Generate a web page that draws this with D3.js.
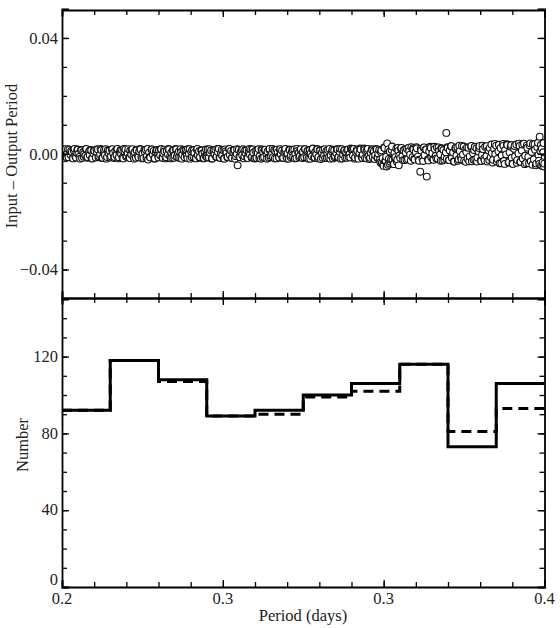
<!DOCTYPE html>
<html><head><meta charset="utf-8">
<script src="https://cdn.jsdelivr.net/npm/d3@7"></script>
<style>body{margin:0;background:#fff;} svg{display:block;} text{font-family:"Liberation Serif","Times New Roman",serif;fill:#222;}</style>
</head><body><div id="chart"></div>
<script>
// ---- DATA ----
// periods (units of 1e-4 days) and input-output differences (units of 1e-4)
const periods = [
2000,2004,2009,2013,2016,2022,2027,2031,2035,2041,2046,2049,2055,2060,2064,2068,2073,2079,2083,2088,2092,2097,2101,2106,2112,2115,2121,2126,2130,2134,2140,2145,2149,2154,2158,2163,2169,2173,2178,2182,2187,2193,2197,
2203,2207,2212,2216,2221,2226,2230,2236,2240,2245,2249,2254,2259,2263,2268,2272,2278,2283,2287,2292,2296,2301,2306,2310,2315,2320,2324,2329,2334,2338,2343,2348,2352,2357,2361,2366,2371,2376,2380,2385,2389,2394,2398,
2402,2407,2411,2416,2420,2425,2430,2434,2439,2444,2448,2453,2457,2462,2467,2471,2476,2480,2485,2490,2494,2499,2503,2508,2513,2517,2522,2526,2531,2536,2540,2545,2549,2554,2559,2563,2568,2572,2577,2582,2586,2591,2595,
2600,2604,2609,2613,2618,2623,2627,2632,2636,2641,2646,2650,2655,2659,2664,2669,2673,2678,2682,2687,2692,2696,2701,2705,2710,2715,2719,2724,2728,2733,2738,2742,2747,2751,2756,2761,2765,2770,2774,2779,2784,2788,2793,2797,
2802,2806,2811,2815,2820,2825,2829,2834,2838,2843,2848,2852,2857,2861,2866,2871,2875,2880,2884,2889,2894,2898,2903,2907,2912,2917,2921,2926,2930,2935,2940,2944,2949,2953,2958,2963,2967,2972,2976,2981,2986,2990,2995,2999,
3004,3008,3013,3017,3022,3027,3031,3036,3040,3045,3050,3054,3059,3063,3068,3073,3077,3082,3086,3091,3096,3100,3105,3109,3114,3119,3123,3128,3132,3137,3142,3146,3151,3155,3160,3165,3169,3174,3178,3183,3188,3192,3197,
3201,3206,3210,3215,3219,3224,3229,3233,3238,3242,3247,3252,3256,3261,3265,3270,3275,3279,3284,3288,3293,3298,3302,3307,3311,3315,3318,3322,3326,3329,3333,3337,3340,3344,3348,3351,3355,3359,3362,3366,3370,3374,3378,3382,3386,3390,3394,3398,
3402,3407,3411,3416,3420,3425,3430,3434,3439,3443,3448,3453,3457,3462,3466,3471,3476,3480,3485,3489,3494,3499,3503,3508,3512,3517,3522,3526,3531,3535,3540,3545,3549,3554,3558,3563,3568,3572,3577,3581,3586,3591,3593,3595,3599,
3603,3607,3612,3616,3621,3626,3630,3635,3639,3644,3649,3653,3658,3662,3667,3672,3676,3681,3685,3690,3695,3699,3704,3708,3713,3718,3722,3727,3731,3736,3741,3745,3750,3754,3759,3764,3768,3773,3777,3782,3787,3791,3796,
3800,3805,3809,3814,3818,3823,3828,3832,3837,3841,3846,3851,3855,3860,3864,3869,3874,3878,3883,3887,3892,3897,3901,3906,3910,3915,3920,3924,3929,3933,3938,3943,3947,3952,3956,3961,3966,3970,3975,3977,3980,3983,3986,3989,3992,3995,3998];
const residuals = [
3,-14,9,16,-6,1,-12,14,-3,7,-16,11,-8,4,15,-1,-10,13,-15,6,0,-7,17,-11,8,-4,12,-16,2,10,-13,5,15,-9,-2,13,-14,7,-5,16,-11,3,11,
-9,14,2,-15,10,-4,17,-12,6,-1,13,-16,8,15,-7,3,-13,11,-3,16,-10,5,-14,12,-6,9,17,-11,1,-15,7,14,-8,-20,4,-13,15,-2,10,-16,6,13,-5,
12,-5,16,-13,1,8,-16,10,-2,15,-9,4,-14,13,-6,17,-11,2,9,-15,6,-3,14,-12,11,-7,16,-1,-17,7,13,-10,3,-14,15,-5,9,-12,12,0,-16,6,-8,
-7,15,-13,4,11,-16,9,-2,14,-10,6,17,-14,1,-6,12,-17,8,3,-11,16,-4,10,-15,5,13,-8,-1,-40,14,-12,7,-5,16,-9,2,12,-15,9,-3,15,-11,4,-16,
10,-15,3,16,-8,-17,12,5,-11,14,-3,8,-14,17,-6,1,-12,13,9,-16,4,-9,15,-2,11,-14,6,17,-10,2,-17,13,-5,8,-12,15,-1,-15,10,4,-8,16,-13,7,
-12,16,-4,9,-17,13,2,-9,18,-14,6,-2,15,-11,11,-18,4,14,-7,-15,10,1,-13,17,-5,8,-16,12,-8,3,15,-12,7,-17,16,-3,10,-14,5,13,-10,-1,18,
14,-6,17,-13,5,10,-17,2,15,-10,-3,18,-15,7,12,-8,-18,4,16,-12,9,-5,17,-14,1,13,-20,6,-32,-15,-42,20,-25,-10,36,-38,-18,8,-28,14,-22,-35,3,-12,18,-20,10,-6,
-15,20,-8,12,-22,4,17,-18,9,-3,23,-12,14,-20,6,19,-9,-24,-62,11,-16,21,-5,15,-79,-19,8,24,-13,2,-21,16,-7,22,-17,10,-2,19,-23,13,-10,5,72,-18,20,
-22,11,26,-14,4,-27,18,-6,23,-19,9,-11,27,-3,-24,15,6,-17,21,-9,25,-26,2,13,-20,19,-13,8,27,-23,-4,16,-16,24,-8,-27,12,20,-12,3,-21,17,-1,
28,-18,9,-33,20,-6,34,-25,13,-2,30,-30,5,24,-14,-35,17,-9,32,-22,1,27,-28,11,-16,35,-7,-32,21,-11,29,-26,6,33,-19,14,-34,23,-4,-24,59,10,-40,18,-30,5,-44];

// second group of stars (same units)
const periodsB = [
2002,2011,2019,2025,2038,2044,2052,2058,2066,2075,2081,2090,2099,2104,2117,2124,2132,2143,2151,2160,
2166,2175,2184,2190,2200,2209,2218,2228,2233,2243,2251,2257,2266,2275,2281,2290,2299,2308,2317,2326,
2332,2341,2350,2355,2364,2373,2383,2392,2400,2409,2418,2423,2432,2441,2451,2459,2465,2474,2483,2492,
2497,2506,2515,2520,2529,2538,2547,2556,2561,2570,2579,2588,2597,2602,2611,2621,2630,2639,2644,2653,
2662,2671,2676,2685,2694,2703,2712,2717,2726,2735,2745,2754,2759,2768,2777,2786,2791,2800,2809,2818,
2827,2832,2841,2850,2859,2864,2873,2882,2891,2900,2905,2914,2924,2933,2942,2947,2956,2965,2974,2983,
2988,2997,3006,3015,3020,3029,3038,3048,3057,3061,3070,3080,3089,3098,3103,3112,3121,3130,3139,3144,
3153,3162,3171,3181,3186,3195,3204,3213,3222,3227,3236,3245,3254,3263,3268,3277,3286,3296,3305,3309,
3320,3324,3331,3335,3342,3346,3353,3357,3364,3368,3376,3380,3388,3392,3396,3405,3414,3423,3428,3437,
3446,3455,3460,3469,3478,3487,3497,3501,3510,3519,3529,3538,3543,3552,3561,3570,3575,3584,3597,3605,
3614,3624,3633,3641,3647,3656,3665,3674,3679,3688,3697,3706,3711,3720,3729,3738,3743,3752,3761,3771,
3780,3785,3794,3802,3811,3821,3830,3835,3844,3853,3862,3867,3876,3885,3894,3899,3908,3918,3927,3936,
3941,3950,3959,3964,3973,3979,3985,3991,3996,3999];
const residualsB = [
15,-16,-12,16,10,-15,17,-13,14,-17,12,-10,16,-14,13,-16,11,15,-12,17,
-15,14,-17,12,-13,16,-11,15,-16,13,-14,17,-10,16,-15,12,-17,14,-12,15,
-16,13,-14,17,-11,15,-17,12,-13,16,-15,14,-12,17,-16,11,-14,15,-13,16,
-17,12,14,-15,16,-12,13,-16,17,-14,11,-15,15,-13,16,-17,12,-11,17,-14,
14,-16,15,-12,17,-15,13,-17,16,-11,14,-16,12,-14,17,-13,15,-16,11,-15,
16,-14,13,-17,15,-12,17,-16,14,-13,16,-15,12,-17,15,-11,14,-16,17,-12,
13,-15,16,-14,12,-17,15,-13,17,-16,11,-14,16,-15,13,-17,14,-12,16,-13,
17,-16,12,-14,15,-13,16,-17,14,-12,18,-15,13,-16,17,-14,12,-18,15,-13,
-30,12,-38,22,-24,-44,15,-33,-20,25,-36,-15,-28,20,-40,18,-22,16,-20,21,
-24,19,-18,23,-21,17,-25,22,14,-23,20,-19,24,-16,22,-24,18,-20,23,-22,
26,-27,21,-24,28,-20,25,-28,22,-26,27,-21,24,-27,20,-25,28,-23,26,-22,
32,-30,34,-27,31,-33,28,-35,33,-29,30,-34,27,-31,35,-28,32,-36,29,-33,
36,-38,33,-40,38,-35,30,-42,37,-34];

// histogram: bin edges (days) and counts
const binEdges = [0.20,0.22,0.24,0.26,0.28,0.30,0.32,0.34,0.36,0.38,0.40];
const inputCounts  = [92,118,108,89,92,100,106,116,73,106];   // solid
const outputCounts = [92,118,107,89,90,99,102,116,81,93];     // dashed

const xTickValues = [0.2, 0.26667, 0.33333, 0.4];
const xTickLabels = ["0.2","0.3","0.3","0.4"];
const topTickValues = [-0.04, 0, 0.04];
const topTickLabels = ["\u22120.04","0.00","0.04"];
const botTickValues = [0, 40, 80, 120];
const botTickLabels = ["0","40","80","120"];

// ---- LAYOUT ----
const W = 560, H = 628;
const L = 62, R = 544.5, T1 = 10, B1 = 298, T2 = 298, B2 = 587;
const FS = "16.5px";

const svg = d3.select("#chart").append("svg").attr("width", W).attr("height", H);

const x = d3.scaleLinear().domain([0.2, 0.4]).range([L, R]);
const yTop = d3.scaleLinear().domain([-0.05, 0.05]).range([B1 + 0.5, T1 - 1]);
const yBot = d3.scaleLinear().domain([0, 150]).range([B2, T2 + 1]);

const xMinor = d3.range(0, 16).map(i => 0.2 + i * 0.2 / 15);
const topMinor = d3.range(-5, 6).map(i => i * 0.01);
const botMinor = d3.range(0, 16).map(i => i * 10);

// scatter
const pts = periods.map((p, i) => ({p: p / 10000, d: residuals[i] / 10000}))
  .concat(periodsB.map((p, i) => ({p: p / 10000, d: residualsB[i] / 10000})))
  .sort((a, b) => a.p - b.p);
svg.append("clipPath").attr("id", "c1").append("rect")
  .attr("x", L).attr("y", T1).attr("width", R - L).attr("height", B1 - T1);
svg.append("g").attr("clip-path", "url(#c1)")
  .selectAll("circle").data(pts).join("circle")
  .attr("cx", d => x(d.p)).attr("cy", d => yTop(d.d)).attr("r", 3.4)
  .attr("fill", "#fff").attr("stroke", "#111").attr("stroke-width", 1.1);

// histogram step lines
function stepData(counts) {
  const arr = [];
  counts.forEach((c, i) => { arr.push([binEdges[i], c]); arr.push([binEdges[i + 1], c]); });
  return arr;
}
const line = d3.line().x(d => x(d[0])).y(d => yBot(d[1]));
svg.append("path").datum(stepData(outputCounts)).attr("d", line)
  .attr("fill", "none").attr("stroke", "#000").attr("stroke-width", 3)
  .attr("stroke-dasharray", "10,6");
svg.append("path").datum(stepData(inputCounts)).attr("d", line)
  .attr("fill", "none").attr("stroke", "#000").attr("stroke-width", 3);

// ---- AXES ----
function addAxis(g, axisFn, scale, values, minors) {
  g.call(axisFn(scale).tickValues(values).tickSize(7).tickFormat(""));
  const gm = g.append("g").call(axisFn(scale).tickValues(minors).tickSize(5).tickFormat(""));
  gm.select(".domain").remove();
  g.selectAll("line").attr("stroke", "#000").attr("stroke-width", 1.3);
  g.select(".domain").attr("stroke", "#000").attr("stroke-width", 1.8);
}
// top panel
addAxis(svg.append("g").attr("transform", `translate(${L},0)`), d3.axisRight, yTop, topTickValues, topMinor);
addAxis(svg.append("g").attr("transform", `translate(${R},0)`), d3.axisLeft, yTop, topTickValues, topMinor);
addAxis(svg.append("g").attr("transform", `translate(0,${T1})`), d3.axisBottom, x, xTickValues, xMinor);
addAxis(svg.append("g").attr("transform", `translate(0,${B1})`), d3.axisTop, x, xTickValues, xMinor);
// bottom panel
addAxis(svg.append("g").attr("transform", `translate(${L},0)`), d3.axisRight, yBot, botTickValues, botMinor);
addAxis(svg.append("g").attr("transform", `translate(${R},0)`), d3.axisLeft, yBot, botTickValues, botMinor);
addAxis(svg.append("g").attr("transform", `translate(0,${T2})`), d3.axisBottom, x, xTickValues, xMinor);
addAxis(svg.append("g").attr("transform", `translate(0,${B2})`), d3.axisTop, x, xTickValues, xMinor);

// tick labels
const lab = svg.append("g").style("font-size", FS);
lab.selectAll(".tl").data(topTickValues).join("text")
  .attr("x", L - 4).attr("y", d => yTop(d)).attr("dy", "0.35em").attr("text-anchor", "end")
  .text((d, i) => topTickLabels[i]);
lab.selectAll(".bl").data(botTickValues).join("text")
  .attr("x", L - 4).attr("y", d => d === 0 ? yBot(d) - 2 : yBot(d))
  .attr("dy", d => d === 0 ? "0em" : "0.32em").attr("text-anchor", "end")
  .text((d, i) => botTickLabels[i]);
lab.selectAll(".xl").data(xTickValues).join("text")
  .attr("x", d => x(d)).attr("y", B2 + 17).attr("text-anchor", "middle")
  .text((d, i) => xTickLabels[i]);

// axis titles
svg.append("text").attr("transform", `translate(17,156) rotate(-90)`)
  .attr("text-anchor", "middle").style("font-size", FS).text("Input \u2013 Output Period");
svg.append("text").attr("transform", `translate(28,445) rotate(-90)`)
  .attr("text-anchor", "middle").style("font-size", FS).text("Number");
svg.append("text").attr("x", 303).attr("y", 621)
  .attr("text-anchor", "middle").style("font-size", FS).text("Period (days)");
</script></body></html>
